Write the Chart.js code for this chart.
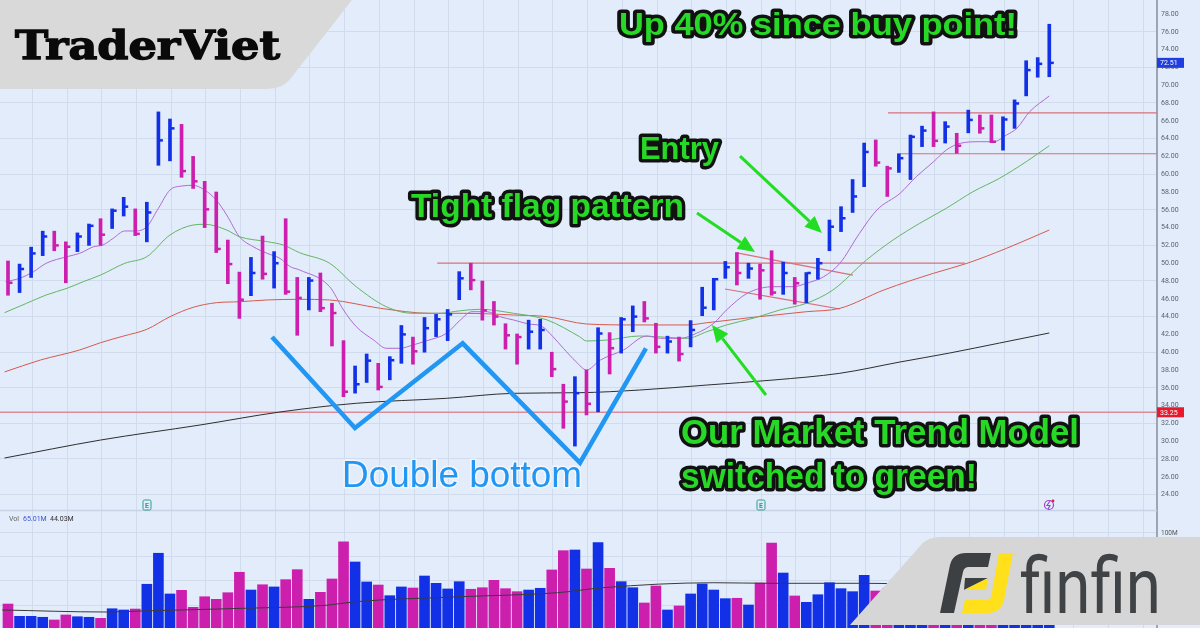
<!DOCTYPE html>
<html lang="en">
<head>
  <meta charset="UTF-8">
  <title>Double bottom - tight flag</title>
  <script src="https://cdn.jsdelivr.net/npm/chart.js"></script>
  <style>
    html, body { margin: 0; padding: 0; overflow: hidden; }
    #wrap { position: relative; width: 1200px; height: 628px; background: #e2ecfa; }
    #wrap canvas { position: absolute; left: 0; top: 0; }
    #ov { position: absolute; left: 0; top: 0; pointer-events: none; }
    .g { fill: #27d827; stroke: #111; stroke-width: 7px; stroke-linejoin: round; paint-order: stroke; font-family: "Liberation Sans", Arial, sans-serif; font-weight: 700; }
  </style>
</head>
<body>
  <div id="wrap">
    <canvas id="chart" width="1200" height="628"></canvas>

    <svg id="ov" width="1200" height="628" viewBox="0 0 1200 628">
      <!-- TraderViet badge -->
      <path d="M0,0 H352 L291,78 Q283,89 267,89 H0 Z" fill="#d9d9d9"/>
      <text x="15" y="59" font-family="DejaVu Serif" font-weight="700" font-size="40" textLength="265" lengthAdjust="spacingAndGlyphs" fill="#0a0a0a" stroke="#0a0a0a" stroke-width="1.4">TraderViet</text>

      <!-- annotations -->
      <text class="g" x="619" y="35" font-size="31" textLength="398" lengthAdjust="spacingAndGlyphs">Up 40% since buy point!</text>
      <text class="g" x="640" y="159" font-size="32" textLength="79" lengthAdjust="spacingAndGlyphs">Entry</text>
      <text class="g" x="411" y="217" font-size="34" textLength="273" lengthAdjust="spacingAndGlyphs">Tight flag pattern</text>
      <text class="g" x="681" y="444" font-size="35" textLength="398" lengthAdjust="spacingAndGlyphs">Our Market Trend Model</text>
      <text class="g" x="681" y="488" font-size="35" textLength="296" lengthAdjust="spacingAndGlyphs">switched to green!</text>
      <text x="342" y="487" font-family="Liberation Sans, Arial, sans-serif" font-size="37" textLength="240" lengthAdjust="spacingAndGlyphs" fill="#2196f3" stroke="rgba(255,255,255,0.6)" stroke-width="3" paint-order="stroke">Double bottom</text>

      <!-- event markers -->
      <rect x="143" y="500" width="8" height="10" rx="1.5" fill="none" stroke="#2a9d8f" stroke-width="1"/>
      <text x="147" y="508" font-size="7" text-anchor="middle" fill="#2a9d8f" font-family="Roboto" font-weight="700">E</text>
      <rect x="757" y="500" width="8" height="10" rx="1.5" fill="none" stroke="#2a9d8f" stroke-width="1"/>
      <text x="761" y="508" font-size="7" text-anchor="middle" fill="#2a9d8f" font-family="Roboto" font-weight="700">E</text>
      <circle cx="1049" cy="505" r="4.5" fill="none" stroke="#9b40d0" stroke-width="1.2"/>
      <path d="M1050,501 L1047,505.5 H1050 L1048,509" fill="none" stroke="#9b40d0" stroke-width="1.1"/>
      <circle cx="1053" cy="501" r="1.4" fill="#e0203a"/>

      <!-- finfin badge -->
      <path d="M850,625 L921,545 Q928,537 941,537 H1200 V625 Z" fill="#d6d6d6"/>
      <path d="M940,613 L950,565 Q953,553 966,553 L991,553 L988,567 L969,567 Q964,567 963,572 L954,613 Z" fill="#3d4043"/>
      <path d="M964,590 L965,578 L988,578 Z" fill="#3d4043"/>
      <path d="M964,590 L988,578 L986,590 Z" fill="#ffe01b"/>
      <path d="M999,553 L1013,553 L1004,600 Q1001,613 987,613 L962,613 L965,600 L987,600 Q990,600 991,597 Z" fill="#ffe01b"/>
      <text x="1020" y="613" font-family="Roboto" font-weight="400" font-size="78" textLength="141" lengthAdjust="spacingAndGlyphs" fill="#404346">finfin</text>
    </svg>
  </div>

  <script>
    // ---- price bars (one per session, index 0..90) ----
    const highs = [
      50.25, 49.9, 51.8, 53.6, 53.6, 52.4, 53.4, 54.4, 55.0, 56.1,
      57.4, 56.1, 56.85, 67.0, 66.2, 65.6, 62.0, 59.2, 58.0, 52.6,
      49.0, 50.65, 53.05, 51.3, 55.0, 48.4, 48.4, 48.9, 45.5, 41.3,
      38.45, 39.8, 38.75, 39.5, 43.0, 41.7, 43.9, 44.25, 44.8, 49.05,
      50.0, 48.0, 45.7, 43.2, 42.05, 43.6, 43.7, 40.0, 36.4, 37.25,
      38.0, 42.75, 42.2, 43.9, 45.2, 45.7, 43.25, 41.8, 41.7, 43.55,
      47.3, 48.3, 50.2, 51.2, 50.0, 49.9, 51.4, 50.1, 48.4, 48.95,
      50.55, 54.85, 56.35, 59.4, 63.5, 63.85, 60.9, 62.3, 64.4, 65.4,
      67.0, 65.9, 64.6, 67.2, 66.65, 66.65, 66.45, 68.35, 72.75, 73.1, 76.85
    ];
    const lows = [
      46.4, 46.7, 48.4, 50.85, 51.4, 47.8, 51.3, 52.0, 52.0, 53.9,
      55.3, 53.1, 52.4, 61.0, 61.5, 59.65, 58.4, 54.0, 51.2, 47.7,
      43.8, 46.35, 48.2, 47.2, 46.5, 41.9, 44.75, 44.55, 40.7, 35.0,
      35.4, 36.6, 35.75, 36.9, 38.75, 38.65, 40.0, 41.75, 41.3, 45.9,
      47.0, 43.6, 43.05, 40.35, 38.65, 40.35, 40.35, 37.25, 31.45, 29.45,
      32.95, 33.3, 37.55, 39.9, 42.3, 43.4, 39.9, 39.9, 39.0, 40.6,
      44.1, 44.75, 48.3, 47.55, 48.3, 45.95, 46.4, 46.5, 45.4, 45.55,
      48.2, 51.4, 53.55, 55.7, 58.6, 60.9, 57.5, 60.2, 59.4, 63.1,
      63.1, 63.5, 62.35, 64.65, 64.6, 63.55, 62.7, 65.15, 68.8, 70.9, 70.95
    ];
    const closes = [
      47.8, 49.35, 51.1, 53.0, 52.0, 51.85, 53.0, 54.2, 53.2, 55.9,
      56.35, 53.3, 55.7, 63.8, 65.15, 60.35, 59.2, 56.05, 51.6, 49.9,
      45.9, 48.9, 48.8, 50.0, 46.8, 46.1, 48.05, 44.95, 44.4, 35.56,
      36.4, 39.05, 36.1, 39.1, 42.0, 40.1, 42.7, 43.7, 44.25, 48.3,
      48.1, 44.7, 44.0, 41.9, 41.7, 42.3, 42.5, 38.1, 34.45, 35.4,
      34.2, 42.1, 40.45, 43.7, 44.0, 43.8, 40.6, 41.2, 39.8, 42.5,
      45.0, 48.2, 49.55, 48.9, 49.4, 49.2, 46.7, 48.9, 47.75, 48.9,
      50.0, 54.1, 55.05, 57.5, 62.5, 61.3, 60.65, 61.8, 64.2, 64.9,
      63.75, 65.35, 63.2, 66.1, 65.15, 63.65, 66.15, 67.95, 71.7, 72.4, 72.51
    ];
    const prevClose = 48.3;

    // ---- volume (millions) ----
    const volumes = [
      26.0, 13.2, 13.2, 12.2, 9.4, 14.6, 12.8, 12.2, 11.1, 21.1,
      19.8, 20.8, 46.6, 78.9, 36.5, 40.3, 22.6, 33.6, 30.9, 37.8,
      59.1, 40.6, 46.1, 43.8, 51.4, 61.8, 30.9, 38.2, 52.1, 90.9,
      69.8, 49.0, 45.8, 34.7, 43.8, 42.7, 55.2, 47.6, 41.7, 49.3,
      41.4, 43.0, 50.7, 42.0, 38.9, 40.6, 42.4, 61.5, 81.6, 82.3,
      62.5, 89.9, 63.2, 49.3, 43.0, 27.1, 44.8, 19.8, 24.0, 36.5,
      46.9, 40.6, 31.6, 32.0, 25.0, 47.9, 89.6, 58.3, 34.4, 27.8,
      35.7, 48.2, 42.0, 38.9, 55.9, 39.6, 42.0, 35.0, 50.0, 38.0,
      45.0, 33.0, 36.0, 40.0, 30.0, 34.0, 44.0, 48.0, 70.0, 52.0, 65.01
    ];
    const volAvgNow = 44.03;

    // ---- moving averages: [bar index, value] ----
    const ma10 = [[-0.2,47.92],[1,48.3],[2.2,49.04],[3.3,49.99],[5.1,50.73],[6.2,51.11],[7.4,51.85],[8.2,52.04],[9.1,52.8],[10.1,53.62],[11,53.62],[12,54.1],[13,56.17],[14,58.22],[15,58.67],[16,58.75],[16.9,58.3],[18,57.1],[18.9,55.42],[20,52.98],[21.2,51.85],[22.4,51.11],[23.5,50.55],[24.4,49.61],[25.2,49.24],[27.8,47.36],[29,44.74],[30.1,42.87],[31.6,41.37],[32.7,40.44],[33.9,40.44],[35,40.81],[36.2,41.29],[37.9,42.12],[39.1,43.62],[40.1,44.55],[41.4,44.55],[42.5,43.99],[43.7,43.62],[45,43.17],[46.1,42.94],[47.1,41.74],[48,40.44],[49.1,38.93],[50,38.0],[51.2,39.12],[53.2,40.25],[55.2,41.82],[56.4,41.56],[58.1,41.56],[59.5,42.12],[61,43.25],[62.1,44.74],[63.9,46.62],[66.2,47.36],[67.9,47.36],[69,47.74],[70.5,48.48],[71.9,49.99],[73.6,53.36],[75.1,55.98],[77.1,57.85],[78.5,59.72],[80,61.4],[81.1,62.72],[82.3,63.47],[84,63.65],[85.2,63.65],[86.3,64.4],[87.2,65.16],[88.3,67.02],[90,68.79]];
    const ma21 = [[-0.3,44.44],[1.6,45.49],[3.3,46.43],[5.1,47.18],[6.5,47.92],[8,48.67],[10.1,49.99],[12,50.73],[14,53.17],[16,54.29],[17,54.37],[18.9,53.73],[20,52.98],[22.4,52.42],[23.8,52.04],[25.2,51.18],[27.8,49.99],[30.1,47.36],[32.7,45.11],[35,44.37],[37.3,44.37],[39.1,44.66],[40.8,44.82],[43.7,44.37],[46.6,43.62],[49.4,41.74],[50,41.26],[51.8,41.37],[54.6,41.82],[56.1,41.74],[58.7,41.56],[60.4,42.3],[62.1,43.06],[64.4,43.81],[66.7,44.74],[69,45.49],[71.3,46.99],[74.2,50.36],[76.5,52.61],[78.8,54.48],[81.1,56.17],[83.4,58.03],[85.7,59.54],[88,61.4],[90,63.2]];
    const ma50 = [[-0.3,37.78],[2.8,39.12],[6.2,40.25],[8,41.07],[10,41.82],[12,42.57],[14,43.99],[16,45.04],[18,45.56],[20,45.67],[22.4,45.87],[25.2,45.94],[27.8,45.87],[32.2,44.93],[36.5,44.37],[39.4,44.37],[43.7,44.18],[46.6,43.99],[50,43.17],[54.6,43.06],[58.7,43.06],[60.4,43.31],[64.4,43.92],[69,44.55],[71.9,44.93],[75.7,46.99],[80,48.87],[82.9,49.99],[86.3,51.67],[90,53.73]];
    const ma200 = [[-0.3,28.11],[8,30.13],[16.6,31.82],[23.5,33.28],[30.1,34.26],[37.9,34.82],[43.7,35.38],[49.4,35.45],[54.6,35.75],[60.4,36.31],[66.2,36.88],[71.9,37.63],[77.1,38.9],[81.4,39.91],[85.7,41.03],[90,42.16]];
    const volMa = [[-0.5,19.8],[8.5,17.7],[11.5,18.75],[20.5,21.6],[27.5,24.7],[30,28.4],[39,33.6],[47.5,37.8],[51.4,43.0],[61,48.2],[66,47.6],[74,47.6],[82,45.5],[90,44.03]];

    // ---- drawn lines: levels, flag, double-bottom sketch ----
    const levelPrice = [33.25, 50.0, 66.9, 62.3];
    const levelFrom  = [-0.7, 37.1, 76.06, 77.1];
    const levelTo    = [99.3, 82.7, 99.3, 99.3];
    const flagUpper = [[63.0, 51.15], [73.03, 48.67]];
    const flagLower = [[61.97, 47.1], [71.91, 44.85]];
    const wSketch = [[22.82, 41.71], [29.99, 31.48], [39.3, 41.0], [49.44, 27.58], [55.14, 40.44]];
    const arrowFrom = [[59.55, 55.64], [63.27, 62.04], [65.51, 35.19]];
    const arrowTo   = [[64.56, 51.26], [70.35, 53.39], [60.85, 43.06]];

    // ---- view ----
    const xMin = -0.6914, xMax = 99.31;
    const priceMin = 9.011, priceMax = 79.573;
    const volMin = 1.042, volMax = 655.2;
    const volPanelTop = 124;

    const UP = '#1230e6', DOWN = '#cc1fae';
    const barColor = i => closes[i] >= (i === 0 ? prevClose : closes[i - 1]) ? UP : DOWN;
    const pts = arr => arr.map(p => ({ x: p[0], y: p[1] }));
    const lineDs = (data, color, width, axis) => ({
      type: 'line', data, borderColor: color, borderWidth: width, pointRadius: 0,
      yAxisID: axis || 'y', cubicInterpolationMode: 'monotone'
    });

    const datasets = [
      { type: 'line', data: pts(wSketch), borderColor: '#2196f3', borderWidth: 4.5, pointRadius: 0, tension: 0, yAxisID: 'y' },
      {
        type: 'bar', data: highs.map((h, i) => ({ x: i, y: [lows[i], h] })),
        backgroundColor: closes.map((c, i) => barColor(i)), barThickness: 3, grouped: false, yAxisID: 'y'
      },
      lineDs(pts(ma10), '#b06ad2', 1),
      lineDs(pts(ma21), '#62b662', 1),
      lineDs(pts(ma50), '#d65a4e', 1),
      lineDs(pts(ma200), '#2e2e2e', 1),
      lineDs(pts(flagUpper), '#d9707a', 1.2),
      lineDs(pts(flagLower), '#d9707a', 1.2)
    ];
    levelPrice.forEach((p, i) => {
      datasets.push(lineDs([{ x: levelFrom[i], y: p }, { x: levelTo[i], y: p }], i === 0 ? '#dc8c98' : '#d9707a', i === 0 ? 1.6 : 1.2));
    });
    datasets.push(lineDs(pts(volMa), '#3a3a3a', 1, 'yv'));
    datasets.push({
      type: 'bar', data: volumes.map((v, i) => ({ x: i, y: v })),
      backgroundColor: closes.map((c, i) => barColor(i)), barThickness: 10, grouped: false, yAxisID: 'yv'
    });

    function drawArrow(ctx, x0, y0, x1, y1) {
      const ang = Math.atan2(y1 - y0, x1 - x0), len = 17, half = 7.5;
      const bx = x1 - Math.cos(ang) * len, by = y1 - Math.sin(ang) * len;
      ctx.beginPath();
      ctx.moveTo(x0, y0);
      ctx.lineTo(bx, by);
      ctx.stroke();
      ctx.beginPath();
      ctx.moveTo(x1, y1);
      ctx.lineTo(bx + Math.sin(ang) * half, by - Math.cos(ang) * half);
      ctx.lineTo(bx - Math.sin(ang) * half, by + Math.cos(ang) * half);
      ctx.closePath();
      ctx.fill();
    }

    function priceBox(ctx, x, y, text, color) {
      ctx.fillStyle = color;
      ctx.fillRect(x, y - 5, 27, 10);
      ctx.fillStyle = '#fff';
      ctx.font = '7px Roboto';
      ctx.textAlign = 'left';
      ctx.textBaseline = 'middle';
      ctx.fillText(text, x + 3, y + 0.5);
    }

    const overlay = {
      id: 'overlay',
      beforeDatasetsDraw(chart) {
        const { ctx, chartArea: a, scales } = chart;
        const y = Math.round(scales.yv.getPixelForValue(volPanelTop)) + 0.5;
        ctx.save();
        ctx.strokeStyle = '#c6d3e6';
        ctx.lineWidth = 1.5;
        ctx.beginPath();
        ctx.moveTo(a.left, y);
        ctx.lineTo(a.right, y);
        ctx.stroke();
        ctx.restore();
      },
      afterDatasetsDraw(chart) {
        const { ctx, scales: { x, y } } = chart;
        ctx.save();
        // close ticks on the right of each bar
        closes.forEach((c, i) => {
          ctx.fillStyle = barColor(i);
          ctx.fillRect(x.getPixelForValue(i) + 1, y.getPixelForValue(c) - 1.25, 3.5, 2.5);
        });
        // green arrows
        ctx.strokeStyle = '#22dd22';
        ctx.fillStyle = '#22dd22';
        ctx.lineWidth = 3;
        arrowFrom.forEach((f, i) => {
          drawArrow(ctx, x.getPixelForValue(f[0]), y.getPixelForValue(f[1]),
            x.getPixelForValue(arrowTo[i][0]), y.getPixelForValue(arrowTo[i][1]));
        });
        ctx.restore();
      },
      afterDraw(chart) {
        const { ctx, chartArea: a, scales: { y, yv } } = chart;
        ctx.save();
        priceBox(ctx, a.right, y.getPixelForValue(closes[closes.length - 1]), closes[closes.length - 1].toFixed(2), '#1f3de0');
        priceBox(ctx, a.right, y.getPixelForValue(levelPrice[0]), levelPrice[0].toFixed(2), '#e8192c');
        ctx.font = '6.5px Roboto';
        ctx.textBaseline = 'middle';
        ctx.textAlign = 'left';
        ctx.fillStyle = '#555';
        ctx.fillText('100M', a.right + 4, yv.getPixelForValue(100));
        const ly = yv.getPixelForValue(volPanelTop) + 9;
        ctx.font = '7px Roboto';
        ctx.fillStyle = '#666';
        ctx.fillText('Vol', 9, ly);
        ctx.fillStyle = '#3b55d9';
        ctx.fillText(volumes[volumes.length - 1].toFixed(2) + 'M', 23, ly);
        ctx.fillStyle = '#333';
        ctx.fillText(volAvgNow.toFixed(2) + 'M', 50, ly);
        ctx.restore();
      }
    };

    const gridColor = '#d0dcee';
    const noPad = s => { s.paddingTop = 0; s.paddingBottom = 0; s.paddingLeft = 0; s.paddingRight = 0; };

    new Chart(document.getElementById('chart'), {
      data: { datasets },
      options: {
        responsive: false,
        animation: false,
        events: [],
        layout: { padding: 0, autoPadding: false },
        plugins: { legend: { display: false }, tooltip: { enabled: false } },
        scales: {
          x: {
            type: 'linear', min: xMin, max: xMax, offset: false,
            afterBuildTicks: s => {
              const t = [];
              for (let v = 2.1; v < xMax; v += 3) t.push({ value: v });
              s.ticks = t;
            },
            ticks: { display: false },
            grid: { color: gridColor, drawTicks: false, offset: false },
            border: { display: false },
            afterFit: s => { s.height = 0; noPad(s); }
          },
          y: {
            position: 'right', min: priceMin, max: priceMax,
            ticks: {
              stepSize: 2, includeBounds: false, autoSkip: false, padding: 4,
              color: '#5b6470', font: { size: 7, family: 'Roboto' },
              callback: v => (v >= 24 && v <= 78) ? v.toFixed(2) : ''
            },
            grid: {
              drawTicks: false,
              color: c => (c.tick.value >= 24 && c.tick.value <= 78 && c.tick.value % 4 === 0) ? gridColor : 'transparent'
            },
            border: { color: '#9ca5b1', width: 2 },
            afterFit: s => { s.width = 43; noPad(s); }
          },
          yv: {
            position: 'right', min: volMin, max: volMax,
            ticks: { display: false, stepSize: 25, includeBounds: false },
            grid: {
              drawTicks: false,
              color: c => (c.tick.value >= 25 && c.tick.value <= 100) ? gridColor : 'transparent'
            },
            border: { display: false },
            afterFit: s => { s.width = 0; noPad(s); }
          }
        }
      },
      plugins: [overlay]
    });
  </script>
</body>
</html>
